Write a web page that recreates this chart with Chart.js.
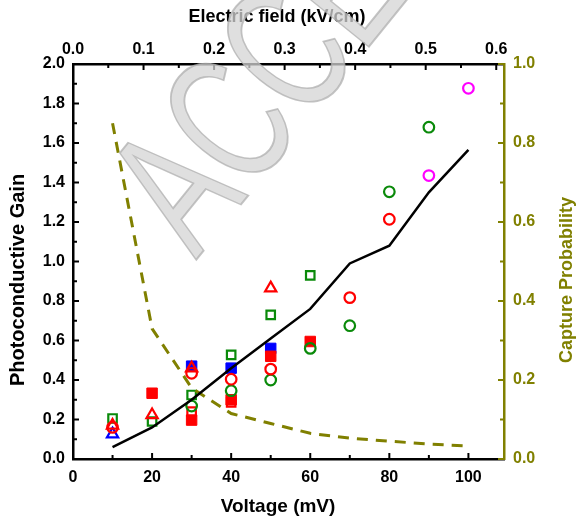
<!DOCTYPE html>
<html>
<head>
<meta charset="utf-8">
<script src="https://cdn.jsdelivr.net/npm/chart.js@4.4.1/dist/chart.umd.min.js"></script>
<style>
    html, body { margin: 0; padding: 0; background: #fff; }
    #wrap { width: 579px; height: 521px; }
</style>
</head>
<body>
<div id="wrap"><canvas id="gain-chart" width="579" height="521"></canvas></div>
<script>
// Photoconductive gain vs voltage, capture probability on right axis
const voltage = [10, 20, 30, 40, 50, 60, 70, 80, 90, 100];
const gainCurve = [0.06, 0.16, 0.30, 0.46, 0.61, 0.76, 0.99, 1.08, 1.35, 1.565];
const captureProb = [0.85, 0.33, 0.18, 0.115, 0.09, 0.065, 0.053, 0.045, 0.038, 0.033];

const greenSqX = [10, 20, 30, 40, 50, 60];
const greenSqY = [0.205, 0.19, 0.324, 0.527, 0.73, 0.93];
const redFillSqX = [20, 30, 40, 50, 60];
const redFillSqY = [0.333, 0.197, 0.30, 0.52, 0.595];
const redOpenSqX = [30, 40];
const redOpenSqY = [0.24, 0.287];
const blueSqX = [30, 40, 50];
const blueSqY = [0.47, 0.46, 0.56];
const redTriX = [10, 20, 30, 50];
const redTriY = [0.17, 0.223, 0.46, 0.865];
const blueTriX = [10];
const blueTriY = [0.126];
const redCircX = [10, 30, 40, 50, 70, 80];
const redCircY = [0.16, 0.434, 0.404, 0.455, 0.817, 1.214];
const greenCircX = [30, 40, 50, 60, 70, 80, 90];
const greenCircY = [0.268, 0.346, 0.40, 0.56, 0.675, 1.353, 1.68];
const magCircX = [90, 100];
const magCircY = [1.435, 1.877];

const voltTicks = [0, 20, 40, 60, 80, 100];
const fieldTicks = [0.0, 0.1, 0.2, 0.3, 0.4, 0.5, 0.6];
const gainTicks = [0.0, 0.2, 0.4, 0.6, 0.8, 1.0, 1.2, 1.4, 1.6, 1.8, 2.0];
const probTicks = [0.0, 0.2, 0.4, 0.6, 0.8, 1.0];

const OLIVE = '#808000';
const FONT = "'Liberation Sans', Arial, sans-serif";

function pts(xs, ys) {
    return xs.map((x, i) => ({ x: x, y: ys[i] }));
}

function markers(label, xs, ys, style, color, filled, radius, order) {
    return {
        label: label,
        data: pts(xs, ys),
        pointStyle: style,
        pointRadius: radius,
        pointBorderWidth: filled ? 1 : 2.2,
        borderColor: color,
        backgroundColor: filled ? color : 'rgba(0,0,0,0)',
        showLine: false,
        order: order,
        yAxisID: 'y',
        xAxisID: 'x'
    };
}

// inward tick marks, drawn from the scales
const innerTicks = {
    id: 'innerTicks',
    afterDatasetsDraw(chart) {
        const ctx = chart.ctx;
        const a = chart.chartArea;
        const sx = chart.scales.x, sx2 = chart.scales.x2;
        const sy = chart.scales.y, sy2 = chart.scales.y2;
        ctx.save();
        ctx.lineWidth = 2;
        ctx.strokeStyle = '#000';
        for (let v = 0; v <= 100; v += 10) {
            const px = sx.getPixelForValue(v);
            const len = v % 20 === 0 ? 6 : 4;
            ctx.beginPath(); ctx.moveTo(px, a.bottom); ctx.lineTo(px, a.bottom - len); ctx.stroke();
        }
        for (let i = 0; i <= 12; i++) {
            const px = sx2.getPixelForValue(i * 0.05);
            const len = i % 2 === 0 ? 6 : 4;
            ctx.beginPath(); ctx.moveTo(px, a.top); ctx.lineTo(px, a.top + len); ctx.stroke();
        }
        for (let i = 0; i <= 20; i++) {
            const py = sy.getPixelForValue(i * 0.1);
            const len = i % 2 === 0 ? 6 : 4;
            ctx.beginPath(); ctx.moveTo(a.left, py); ctx.lineTo(a.left + len, py); ctx.stroke();
        }
        ctx.strokeStyle = OLIVE;
        for (let i = 0; i <= 10; i++) {
            const py = sy2.getPixelForValue(i * 0.1);
            const len = i % 2 === 0 ? 6 : 4;
            ctx.beginPath(); ctx.moveTo(a.right, py); ctx.lineTo(a.right - len, py); ctx.stroke();
        }
        ctx.restore();
    }
};

// axis titles placed like the original figure
const axisTitles = {
    id: 'axisTitles',
    afterDraw(chart) {
        const ctx = chart.ctx;
        ctx.save();
        ctx.textAlign = 'center';
        ctx.textBaseline = 'middle';
        ctx.fillStyle = '#000';
        ctx.font = 'bold 19px ' + FONT;
        ctx.fillText('Voltage (mV)', 278, 507);
        ctx.font = 'bold 18px ' + FONT;
        ctx.fillText('Electric field (kV/cm)', 277, 17);

        ctx.save();
        ctx.translate(18, 280);
        ctx.rotate(-Math.PI / 2);
        ctx.font = 'bold 20px ' + FONT;
        ctx.fillText('Photoconductive Gain', 0, 0);
        ctx.restore();

        ctx.save();
        ctx.translate(567, 280);
        ctx.rotate(-Math.PI / 2);
        ctx.fillStyle = OLIVE;
        ctx.font = 'bold 18px ' + FONT;
        ctx.fillText('Capture Probability', 0, 0);
        ctx.restore();
        ctx.restore();
    }
};

// grey diagonal watermark over everything
const watermark = {
    id: 'watermark',
    afterDraw(chart) {
        const ctx = chart.ctx;
        ctx.save();
        ctx.globalAlpha = 0.75;
        ctx.translate(196, 260);
        ctx.rotate(-51 * Math.PI / 180);
        ctx.scale(0.68, 1);
        ctx.font = '184px ' + FONT;
        ctx.textBaseline = 'alphabetic';
        ctx.textAlign = 'left';
        ctx.fillStyle = '#d4d4d4';
        ctx.fillText('ACCEPTED', 0, 0);
        ctx.lineWidth = 2;
        ctx.strokeStyle = '#b0b0b0';
        ctx.strokeText('ACCEPTED', 0, 0);
        ctx.restore();
    }
};

function fitWidth(w) {
    return function (scale) { scale.width = w; };
}
function fitHeight(h) {
    return function (scale) { scale.height = h; };
}

const tickFont = { family: FONT, size: 16, weight: 'bold' };

const ctx = document.getElementById('gain-chart').getContext('2d');
const chart = new Chart(ctx, {
    type: 'scatter',
    data: {
        datasets: [
            {
                label: 'gain curve',
                data: pts(voltage, gainCurve),
                showLine: true,
                borderColor: '#000',
                borderWidth: 2.5,
                pointRadius: 0,
                fill: false,
                order: 0,
                xAxisID: 'x',
                yAxisID: 'y'
            },
            {
                label: 'capture probability',
                data: pts(voltage, captureProb),
                showLine: true,
                borderColor: OLIVE,
                borderWidth: 3,
                borderDash: [11, 8],
                pointRadius: 0,
                fill: false,
                order: 0,
                xAxisID: 'x',
                yAxisID: 'y2'
            },
            markers('magenta circle', magCircX, magCircY, 'circle', '#ff00ff', false, 5.3, 1),
            markers('red circle', redCircX, redCircY, 'circle', '#ff0000', false, 5.3, 1),
            markers('green circle', greenCircX, greenCircY, 'circle', '#0a8a0a', false, 5.3, 1),
            markers('red triangle', redTriX, redTriY, 'triangle', '#ff0000', false, 6.5, 2),
            markers('blue triangle', blueTriX, blueTriY, 'triangle', '#0000ff', false, 6.5, 2),
            markers('red open square', redOpenSqX, redOpenSqY, 'rect', '#ff0000', false, 6, 3),
            markers('red square', redFillSqX, redFillSqY, 'rect', '#ff0000', true, 7.4, 3),
            markers('blue square', blueSqX, blueSqY, 'rect', '#0000ff', true, 7.4, 4),
            markers('green square', greenSqX, greenSqY, 'rect', '#0a8a0a', false, 6, 5)
        ]
    },
    options: {
        responsive: false,
        animation: false,
        layout: { padding: 0 },
        plugins: {
            legend: { display: false },
            tooltip: { enabled: false }
        },
        scales: {
            x: {
                type: 'linear',
                position: 'bottom',
                min: 0,
                max: 109,
                afterFit: fitHeight(62),
                grid: { display: false, drawTicks: false },
                border: { display: true, color: '#000', width: 2.5 },
                afterBuildTicks: (s) => { s.ticks = voltTicks.map(v => ({ value: v })); },
                ticks: { font: tickFont, color: '#000', padding: 9, maxRotation: 0 }
            },
            x2: {
                type: 'linear',
                position: 'top',
                min: 0,
                max: 0.611,
                afterFit: fitHeight(64),
                grid: { display: false, drawTicks: false },
                border: { display: true, color: '#000', width: 2.5 },
                afterBuildTicks: (s) => { s.ticks = fieldTicks.map(v => ({ value: v })); },
                ticks: {
                    font: tickFont, color: '#000', padding: 5, maxRotation: 0,
                    callback: (v) => v.toFixed(1)
                }
            },
            y: {
                type: 'linear',
                position: 'left',
                min: 0,
                max: 2.0,
                afterFit: fitWidth(73),
                grid: { display: false, drawTicks: false },
                border: { display: true, color: '#000', width: 2.5 },
                afterBuildTicks: (s) => { s.ticks = gainTicks.map(v => ({ value: v })); },
                ticks: {
                    font: tickFont, color: '#000', padding: 8,
                    callback: (v) => v.toFixed(1)
                }
            },
            y2: {
                type: 'linear',
                position: 'right',
                min: 0,
                max: 1.0,
                afterFit: fitWidth(75),
                grid: { display: false, drawTicks: false },
                border: { display: true, color: OLIVE, width: 2.5 },
                afterBuildTicks: (s) => { s.ticks = probTicks.map(v => ({ value: v })); },
                ticks: {
                    font: tickFont, color: OLIVE, padding: 9,
                    callback: (v) => v.toFixed(1)
                }
            }
        }
    },
    plugins: [innerTicks, axisTitles, watermark]
});
</script>
</body>
</html>
